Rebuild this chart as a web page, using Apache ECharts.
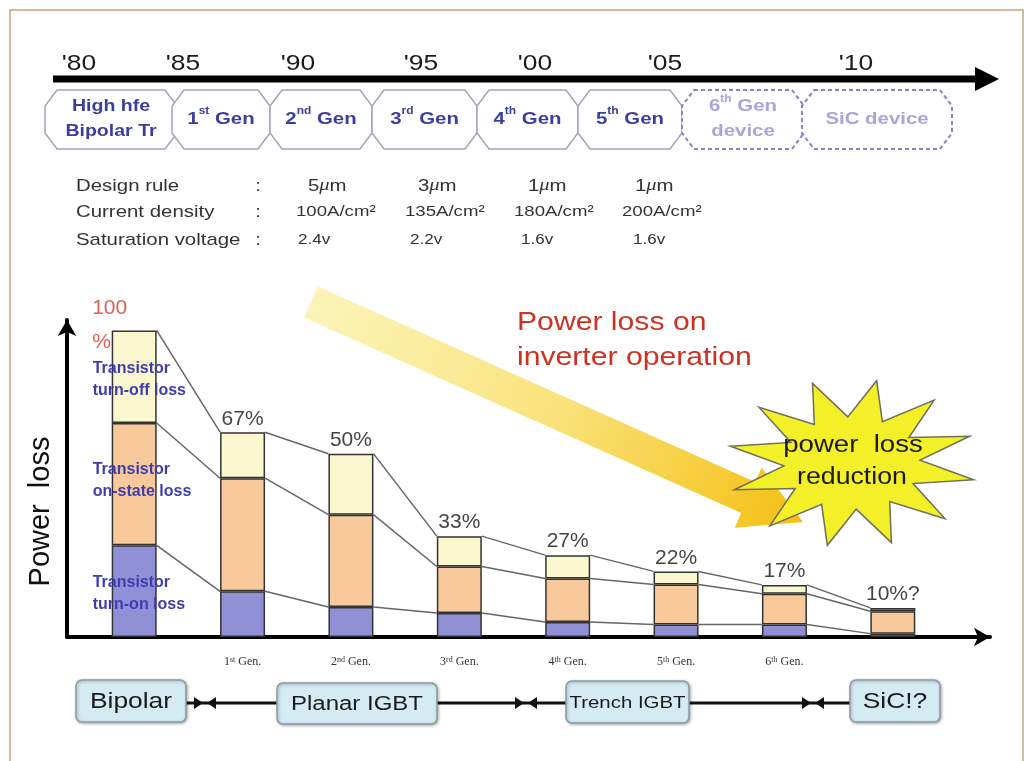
<!DOCTYPE html>
<html>
<head>
<meta charset="utf-8">
<script src="https://cdn.jsdelivr.net/npm/echarts@6/dist/echarts.min.js"></script>
<style>
html, body { margin: 0; padding: 0; background: #fff; }
#chart { width: 1028px; height: 761px; }
</style>
</head>
<body>
<div id="chart"></div>
<script>
// bar chart data (heights, 100 = bipolar bar)
const categories = ['Bipolar', '1st Gen.', '2nd Gen.', '3rd Gen.', '4th Gen.', '5th Gen.', '6th Gen.', 'SiC'];
const tickLabels = ['', '1st Gen.', '2nd Gen.', '3rd Gen.', '4th Gen.', '5th Gen.', '6th Gen.', ''];
const turnOnLoss = [29.9, 14.9, 9.8, 7.8, 4.9, 4.1, 4.1, 1.1];
const onStateLoss = [39.9, 36.9, 30.1, 15.2, 14.2, 13.0, 10.0, 7.3];
const turnOffLoss = [30.2, 15.0, 19.9, 9.9, 7.6, 4.3, 2.9, 1.1];
const totalLabels = ['100\n%', '67%', '50%', '33%', '27%', '22%', '17%', '10%?'];
const seriesNames = ['Transistor\nturn-on loss', 'Transistor\non-state loss', 'Transistor\nturn-off loss'];

// timeline / table texts
const years = ["'80", "'85", "'90", "'95", "'00", "'05", "'10"];
const genNames = ['High hfe\nBipolar Tr', '1{sup|st} Gen', '2{sup|nd} Gen', '3{sup|rd} Gen', '4{sup|th} Gen', '5{sup|th} Gen', '6{sup|th} Gen\ndevice', 'SiC device'];
const tableRows = ['Design rule', 'Current density', 'Saturation voltage'];
const designRule = ['5{mu|μ}m', '3{mu|μ}m', '1{mu|μ}m', '1{mu|μ}m'];
const currentDensity = ['100A/cm²', '135A/cm²', '180A/cm²', '200A/cm²'];
const satVoltage = ['2.4v', '2.2v', '1.6v', '1.6v'];
const techNames = ['Bipolar', 'Planar IGBT', 'Trench IGBT', 'SiC!?'];

// layout of the decorations
const yearX = [79, 183, 298, 421, 535, 665, 856];
const genBoxX = [[45, 177], [172, 270], [270, 372], [372, 477], [477, 578], [578, 682], [682, 804], [802, 952]];
const tableX = [[308, 418, 528, 635], [296, 405, 514, 622], [298, 410, 521, 633]];
const techBoxes = [[76, 186, 680, 722], [277, 437, 683, 724], [566, 689, 681, 723], [850, 940, 680, 722]];
const techFont = [22, 20, 17, 22];
const joinMid = [205, 526, 813];

const FONT = '"Liberation Sans", Arial, sans-serif';
const SERIF = '"Liberation Serif", "Times New Roman", serif';
const BAR_W = 45;
const Y_MAX = 103.4;
const STRETCH = 1.2; // the source picture is widened, so its texts are too

const cumOn = turnOnLoss.slice();
const cumState = turnOnLoss.map((v, i) => v + onStateLoss[i]);
const cumTotal = cumState.map((v, i) => v + turnOffLoss[i]);

const chart = echarts.init(document.getElementById('chart'));

function octagon(x0, x1, y0, y1, cx, cy) {
  return [[x0 + cx, y0], [x1 - cx, y0], [x1, y0 + cy], [x1, y1 - cy], [x1 - cx, y1], [x0 + cx, y1], [x0, y1 - cy], [x0, y0 + cy]];
}

function starPoints(cx, cy, rx, ry, n, k, rot) {
  const pts = [];
  for (let i = 0; i < n * 2; i++) {
    const a = rot + (Math.PI * i) / n;
    const f = i % 2 === 0 ? 1 : k;
    pts.push([cx + Math.cos(a) * rx * f, cy + Math.sin(a) * ry * f]);
  }
  return pts;
}

function arrowPoints(sx, sy, tx, ty, half, headHalf, headLen) {
  const len = Math.hypot(tx - sx, ty - sy);
  const ux = (tx - sx) / len, uy = (ty - sy) / len;
  const nx = -uy, ny = ux;
  const bx = tx - ux * headLen, by = ty - uy * headLen;
  return [
    [sx - nx * half, sy - ny * half],
    [bx - nx * half, by - ny * half],
    [bx - nx * headHalf, by - ny * headHalf],
    [tx, ty],
    [bx + nx * headHalf, by + ny * headHalf],
    [bx + nx * half, by + ny * half],
    [sx + nx * half, sy + ny * half]
  ];
}

function text(x, y, str, opts, sx) {
  return {
    type: 'text',
    x: x,
    y: y,
    z: 20,
    scaleX: sx || STRETCH,
    style: Object.assign({
      text: str,
      fill: '#222',
      font: '16px ' + FONT,
      align: 'center',
      verticalAlign: 'middle'
    }, opts || {})
  };
}

const graphic = [];

// frame
graphic.push({
  type: 'rect', z: 0,
  shape: { x: 10, y: 10, width: 1013, height: 760 },
  style: { fill: 'none', stroke: '#c2a47e', lineWidth: 1.5 }
});

// timeline
graphic.push({
  type: 'line', z: 5,
  shape: { x1: 53, y1: 79, x2: 980, y2: 79 },
  style: { stroke: '#000', lineWidth: 7 }
});
graphic.push({
  type: 'polygon', z: 5,
  shape: { points: [[975, 67], [999, 79], [975, 91]] },
  style: { fill: '#000' }
});
years.forEach((y, i) => {
  graphic.push(text(yearX[i], 64, y, { font: '22px ' + FONT, fill: '#1a1a1a' }));
});

// generation boxes
genNames.forEach((name, i) => {
  const [x0, x1] = genBoxX[i];
  const dashed = i >= 6;
  graphic.push({
    type: 'polygon', z: 4,
    shape: { points: octagon(x0, x1, 90, 149, 12, 16) },
    style: {
      fill: '#fff',
      stroke: dashed ? '#8a82c4' : '#aaa0bc',
      lineWidth: dashed ? 2 : 1.5,
      lineDash: dashed ? [4, 3] : null
    }
  });
  const color = dashed ? '#aaa4da' : '#3b3f9c';
  graphic.push(text((x0 + x1) / 2, 119, name, {
    font: 'bold 17px ' + FONT,
    fill: color,
    lineHeight: 25,
    rich: { sup: { fontSize: 10, fontWeight: 'bold', fontFamily: FONT, fill: color, verticalAlign: 'top', lineHeight: 12 } }
  }, i === 0 ? 1.15 : STRETCH));
});

// spec table
const rowY = [186, 212, 240];
tableRows.forEach((r, i) => {
  graphic.push(text(76, rowY[i], r, { align: 'left', font: '17px ' + FONT, fill: '#333' }));
  graphic.push(text(258, rowY[i], ':', { font: '17px ' + FONT, fill: '#333' }));
});
[designRule, currentDensity, satVoltage].forEach((row, r) => {
  row.forEach((v, i) => {
    graphic.push(text(tableX[r][i], rowY[r], v, {
      align: 'left',
      font: (r === 0 ? '17px ' : '15.5px ') + FONT,
      fill: '#333',
      rich: { mu: { fontSize: 17, fontStyle: 'italic', fontFamily: SERIF, fill: '#333' } }
    }, r === 2 ? 1.1 : STRETCH));
  });
});

// big yellow arrow
graphic.push({
  type: 'polygon', z: 1,
  shape: { points: arrowPoints(311, 302, 803, 522, 17, 33, 60) },
  style: {
    fill: {
      type: 'linear', x: 311, y: 302, x2: 803, y2: 522, global: true,
      colorStops: [
        { offset: 0, color: 'rgba(250,240,160,0.75)' },
        { offset: 0.5, color: '#f9e27a' },
        { offset: 1, color: '#f5bf12' }
      ]
    }
  }
});

// red caption
graphic.push(text(517, 323, 'Power loss on', { align: 'left', font: '26px ' + FONT, fill: '#cc3322' }, 1.16));
graphic.push(text(517, 358, 'inverter operation', { align: 'left', font: '26px ' + FONT, fill: '#cc3322' }, 1.16));

// starburst
graphic.push({
  type: 'polygon', z: 6,
  shape: { points: starPoints(852, 463, 124, 84, 12, 0.55, -Math.PI / 2 + 0.2) },
  style: { fill: '#f3ef28', stroke: '#6e6e5a', lineWidth: 1.5 }
});
graphic.push(text(853, 446, 'power  loss', { font: '23px ' + FONT, fill: '#1a1a1a' }));
graphic.push(text(852, 478, 'reduction', { font: '23px ' + FONT, fill: '#1a1a1a' }, 1.16));

// technology boxes and joins
techBoxes.forEach((b, i) => {
  graphic.push({
    type: 'rect', z: 6,
    shape: { x: b[0], y: b[2], width: b[1] - b[0], height: b[3] - b[2], r: 6 },
    style: {
      fill: '#d5ebf4', stroke: '#8a9aa2', lineWidth: 1.5,
      shadowBlur: 3, shadowColor: 'rgba(0,0,0,0.3)', shadowOffsetX: 1, shadowOffsetY: 1
    }
  });
  graphic.push(text((b[0] + b[1]) / 2, (b[2] + b[3]) / 2 + 1, techNames[i], { font: techFont[i] + 'px ' + FONT, fill: '#1a1a1a' }));
});
joinMid.forEach((m, i) => {
  const a = techBoxes[i], b = techBoxes[i + 1];
  graphic.push({
    type: 'line', z: 5,
    shape: { x1: a[1], y1: 703, x2: b[0], y2: 703 },
    style: { stroke: '#111', lineWidth: 3 }
  });
  graphic.push({
    type: 'polygon', z: 5,
    shape: { points: [[m - 11, 697], [m - 2, 703], [m - 11, 709]] },
    style: { fill: '#111' }
  });
  graphic.push({
    type: 'polygon', z: 5,
    shape: { points: [[m + 11, 697], [m + 2, 703], [m + 11, 709]] },
    style: { fill: '#111' }
  });
});

// series name labels sit in the first bar, left of its edge
const labelPos = [[-19, 48], [-19, 58], [-19, 49]];
const barColors = ['#9090d6', '#f8c99b', '#fbf7cf'];

const barSeries = [turnOnLoss, onStateLoss, turnOffLoss].map((vals, s) => ({
  type: 'bar',
  name: seriesNames[s],
  stack: 'loss',
  barWidth: BAR_W,
  z: 3,
  itemStyle: { color: barColors[s], borderColor: '#333', borderWidth: 1.5 },
  data: vals.map((v, i) => i === 0 ? {
    value: v,
    label: {
      show: true,
      position: labelPos[s],
      align: 'left',
      verticalAlign: 'middle',
      formatter: seriesNames[s],
      color: '#3d3daf',
      fontWeight: 'bold',
      fontSize: 16,
      lineHeight: 22,
      fontFamily: FONT,
      textBorderWidth: 0
    }
  } : v)
}));

const connectorData = [];
for (let i = 0; i < categories.length - 1; i++) {
  connectorData.push([i, cumOn[i], cumState[i], cumTotal[i], cumOn[i + 1], cumState[i + 1], cumTotal[i + 1]]);
}

const axisArrow = {
  show: true,
  onZero: false,
  lineStyle: { color: '#000', width: 4 },
  symbol: ['none', 'arrow'],
  symbolSize: [14, 16]
};

const option = {
  animation: false,
  backgroundColor: '#fff',
  textStyle: { fontFamily: FONT },
  graphic: graphic,
  grid: [
    // bars
    { left: 80, right: 81, top: 320, bottom: 124 },
    // axis arrows
    { left: 67, right: 38, top: 320, bottom: 124 }
  ],
  xAxis: [
    {
      type: 'category',
      gridIndex: 0,
      data: categories,
      axisLine: { show: false },
      axisTick: { show: false },
      axisLabel: {
        margin: 19,
        fontFamily: SERIF,
        fontSize: 12,
        color: '#333',
        interval: 0,
        formatter: (v, i) => {
          const m = tickLabels[i].match(/^(\d)(\w+)( .*)$/);
          return m ? m[1] + '{sup|' + m[2] + '}' + m[3] : tickLabels[i];
        },
        rich: { sup: { fontSize: 8, fontFamily: SERIF, color: '#333', verticalAlign: 'top', lineHeight: 8 } }
      }
    },
    {
      type: 'value',
      gridIndex: 1,
      min: 0,
      max: 1,
      splitLine: { show: false },
      axisTick: { show: false },
      axisLabel: { show: false },
      axisLine: axisArrow
    }
  ],
  yAxis: [
    {
      type: 'value',
      gridIndex: 0,
      min: 0,
      max: Y_MAX,
      show: false
    },
    {
      type: 'value',
      gridIndex: 1,
      min: 0,
      max: Y_MAX,
      splitLine: { show: false },
      axisTick: { show: false },
      axisLabel: { show: false },
      axisLine: axisArrow,
      name: 'Power  loss',
      nameLocation: 'middle',
      nameRotate: 90,
      nameGap: 12,
      nameTextStyle: { fontSize: 29, color: '#111', fontFamily: FONT, padding: [0, 66, 0, 0] }
    }
  ],
  series: [
    {
      type: 'custom',
      name: 'connectors',
      z: 2,
      silent: true,
      encode: { x: 0, y: [1, 2, 3, 4, 5, 6] },
      data: connectorData,
      renderItem: (params, api) => {
        const i = api.value(0);
        const half = BAR_W / 2;
        const children = [];
        for (let k = 0; k < 3; k++) {
          const p1 = api.coord([i, api.value(1 + k)]);
          const p2 = api.coord([i + 1, api.value(4 + k)]);
          children.push({
            type: 'line',
            shape: { x1: p1[0] + half, y1: p1[1], x2: p2[0] - half, y2: p2[1] },
            style: { stroke: '#666', lineWidth: 1.5 }
          });
        }
        return { type: 'group', children: children };
      }
    },
    ...barSeries,
    {
      type: 'scatter',
      name: 'total',
      symbolSize: 0,
      z: 4,
      silent: true,
      data: cumTotal.map((v, i) => i === 0 ? {
        value: [i, v],
        label: {
          position: [-42, -39],
          align: 'left',
          verticalAlign: 'top',
          color: '#d23a28',
          fontSize: 21,
          lineHeight: 34
        }
      } : [i, v]),
      label: {
        show: true,
        position: 'top',
        distance: 3,
        formatter: (p) => totalLabels[p.dataIndex],
        fontSize: 21,
        color: '#111',
        fontFamily: FONT,
        textBorderWidth: 0
      }
    }
  ]
};

chart.setOption(option);
</script>
</body>
</html>
